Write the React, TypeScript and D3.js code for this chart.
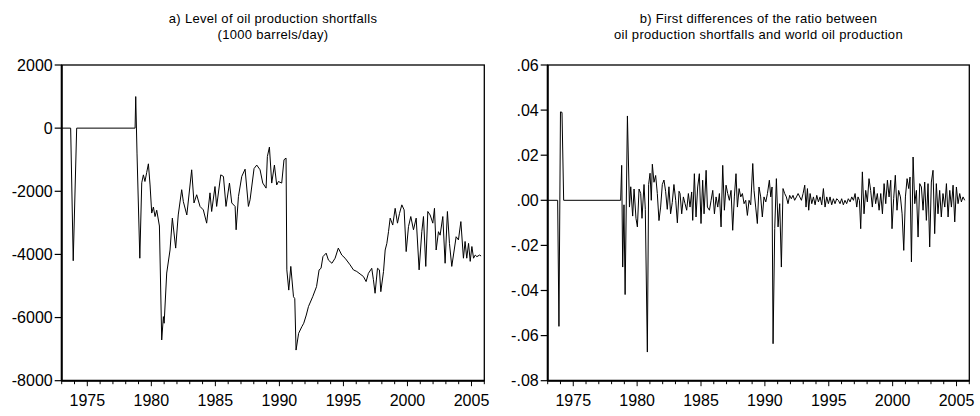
import React from "react";
import * as d3 from "d3";

type Pt = [number, number];

// x axis: one tick per year, labels every five years
const yearTicks = d3.range(1973, 2007);
const yearLabels = [1975, 1980, 1985, 1990, 1995, 2000, 2005];

// panel a) level of shortfalls, [year, 1000 barrels/day]
const levelTicks = [2000, 0, -2000, -4000, -6000, -8000];
const levelTickLabels = ["2000", "0", "-2000", "-4000", "-6000", "-8000"];
const levelTitle = ["a) Level of oil production shortfalls", "(1000 barrels/day)"];
const shortfallLevel: Pt[] = [
  [1973.0, 0], [1973.7, 0], [1973.9, -4200], [1974.17, 0], [1978.73, 0], [1978.78, 1000],
  [1978.88, -790], [1979.1, -4120], [1979.25, -1730], [1979.38, -1480], [1979.5, -1690],
  [1979.64, -1400], [1979.77, -1130], [1979.9, -1800], [1980.03, -2690], [1980.16, -2500],
  [1980.29, -2800], [1980.42, -2600], [1980.63, -3100], [1980.81, -6710], [1980.94, -5970],
  [1981.0, -6180], [1981.2, -4590], [1981.46, -3860], [1981.64, -2850], [1981.9, -3800],
  [1982.1, -2750], [1982.37, -1950], [1982.5, -2330], [1982.77, -2750], [1983.15, -1320],
  [1983.33, -2370], [1983.54, -2110], [1983.8, -2480], [1984.06, -2590], [1984.32, -3010],
  [1984.58, -2050], [1984.71, -2640], [1984.97, -1850], [1985.1, -2480], [1985.42, -1480],
  [1985.63, -1530], [1985.83, -2480], [1986.1, -1740], [1986.28, -2370], [1986.54, -2480],
  [1986.62, -3220], [1986.8, -2170], [1987.06, -1530], [1987.32, -1300], [1987.58, -2480],
  [1987.71, -2270], [1988.02, -1280], [1988.23, -1170], [1988.49, -1320], [1988.7, -1740],
  [1988.96, -1900], [1989.06, -900], [1989.22, -600], [1989.4, -1740], [1989.61, -1170],
  [1989.79, -1800], [1989.92, -1690], [1990.18, -1740], [1990.36, -1000], [1990.52, -950],
  [1990.58, -4490], [1990.73, -5130], [1990.89, -4380], [1991.1, -5340], [1991.2, -5400],
  [1991.3, -7030], [1991.5, -6500], [1991.75, -6290], [1991.9, -6180], [1992.1, -5920],
  [1992.27, -5650], [1992.6, -5340], [1992.9, -5020], [1993.1, -4490], [1993.25, -4440],
  [1993.4, -4070], [1993.65, -3960], [1993.83, -4180], [1994.1, -4280], [1994.35, -4120],
  [1994.6, -3800], [1994.87, -4020], [1995.13, -4120], [1995.52, -4330], [1995.78, -4490],
  [1996.04, -4540], [1996.3, -4620], [1996.56, -4700], [1996.77, -4860], [1996.95, -4600],
  [1997.21, -4440], [1997.34, -4800], [1997.47, -5230], [1997.66, -4440], [1997.81, -4490],
  [1997.92, -5180], [1998.13, -4540], [1998.26, -3860], [1998.39, -3650], [1998.52, -3280],
  [1998.65, -2850], [1998.85, -3070], [1999.04, -2540], [1999.22, -3010], [1999.38, -2700],
  [1999.56, -2430], [1999.74, -2590], [1999.9, -3910], [2000.08, -3120], [2000.26, -2800],
  [2000.47, -3220], [2000.68, -2850], [2000.91, -4490], [2001.12, -3280], [2001.25, -2800],
  [2001.43, -4380], [2001.59, -2640], [2001.77, -2750], [2001.98, -3010], [2002.11, -2540],
  [2002.24, -3860], [2002.42, -3280], [2002.55, -3390], [2002.76, -2800], [2002.94, -4280],
  [2003.12, -2640], [2003.28, -3650], [2003.46, -4380], [2003.65, -3860], [2003.8, -3440],
  [2003.98, -3540], [2004.17, -2960], [2004.37, -4120], [2004.5, -3590], [2004.63, -4120],
  [2004.77, -3650], [2004.9, -4220], [2005.03, -3750], [2005.16, -4120], [2005.29, -4020],
  [2005.42, -4070], [2005.63, -4020], [2005.75, -4050],
];

// panel b) first differences of shortfall / world production
const diffTicks = [0.06, 0.04, 0.02, 0, -0.02, -0.04, -0.06, -0.08];
const diffTickLabels = [".06", ".04", ".02", ".00", "-.02", "-.04", "-.06", "-.08"];
const diffTitle = [
  "b) First differences of the ratio between",
  "oil production shortfalls and world oil production",
];
const shortfallDiff: Pt[] = [
  [1973.0, 0], [1973.78, 0], [1973.88, -0.0559], [1974.0, 0.0392], [1974.12, 0.039], [1974.25, 0],
  [1978.71, 0], [1978.79, 0.0155], [1978.87, -0.0296], [1978.97, -0.002], [1979.06, -0.0418],
  [1979.24, 0.0374], [1979.4, -0.003], [1979.5, 0.006], [1979.65, -0.007], [1979.76, 0.005],
  [1979.91, -0.008], [1980.02, -0.0118], [1980.15, 0.005], [1980.28, 0.003], [1980.38, -0.008],
  [1980.54, 0.007], [1980.64, -0.004], [1980.8, -0.0673], [1980.9, 0.007], [1981.01, 0.012],
  [1981.11, 0], [1981.19, 0.016], [1981.32, 0.008], [1981.45, 0.011], [1981.58, 0.003],
  [1981.71, -0.009], [1981.84, -0.003], [1981.97, 0.007], [1982.1, 0.009], [1982.23, 0.004],
  [1982.36, -0.004], [1982.49, 0.006], [1982.62, -0.006], [1982.75, -0.001], [1982.88, 0.007],
  [1983.02, 0], [1983.15, -0.01], [1983.28, 0.004],
  [1983.36, 0.003], [1983.49, -0.006], [1983.62, 0.0015], [1983.75, -0.0015], [1983.88, -0.0044],
  [1984.01, 0.003], [1984.14, -0.003], [1984.27, 0.0037], [1984.35, -0.0089], [1984.48, 0.0118],
  [1984.61, -0.0074], [1984.74, 0.0059], [1984.87, 0.0118], [1985.0, -0.0103], [1985.13, 0.0089],
  [1985.24, -0.006], [1985.4, 0.0133], [1985.5, -0.003], [1985.66, -0.0044], [1985.79, 0],
  [1985.92, 0.0044], [1986.05, -0.006], [1986.18, 0.0015], [1986.31, -0.003], [1986.44, 0.003],
  [1986.57, -0.0118], [1986.7, 0.0155], [1986.83, -0.0044], [1986.96, 0.0067], [1987.09, 0.003],
  [1987.22, 0], [1987.35, 0.0044], [1987.48, -0.0133], [1987.61, 0.0015], [1987.74, 0.0118],
  [1987.85, -0.003], [1987.98, 0.0052], [1988.11, 0.0015], [1988.24, 0.003], [1988.37, -0.0015],
  [1988.5, 0], [1988.63, -0.0067], [1988.76, 0], [1988.89, -0.002], [1989.05, 0.0163],
  [1989.15, 0.0044], [1989.28, -0.003], [1989.41, -0.0103], [1989.54, 0.0059], [1989.67, 0.0015],
  [1989.8, -0.0074], [1989.93, 0.0015], [1990.07, -0.0007], [1990.2, 0.003], [1990.35, 0.0089],
  [1990.46, 0.0015], [1990.56, 0.0059], [1990.64, -0.0636], [1990.77, -0.0126], [1990.9, 0.0096],
  [1991.03, -0.0118], [1991.16, -0.0015], [1991.29, -0.0296], [1991.42, 0.0052], [1991.55, 0.003],
  [1991.68, 0.0015], [1991.81, -0.0015], [1991.94, 0.0022], [1992.07, 0.0007], [1992.2, 0.0022],
  [1992.33, 0], [1992.47, 0.0015], [1992.6, 0.003], [1992.73, 0.0015], [1992.86, 0],
  [1992.99, 0.003], [1993.12, 0.0067], [1993.22, -0.003], [1993.33, 0.0052], [1993.43, -0.0044],
  [1993.54, 0.003], [1993.67, -0.0015], [1993.8, 0.0015], [1993.93, -0.002], [1994.06, 0.0022],
  [1994.19, -0.0007], [1994.32, 0.0015], [1994.45, -0.002], [1994.58, 0.0052], [1994.71, -0.003],
  [1994.84, 0.0015], [1994.97, -0.0015], [1995.1, 0.0015], [1995.23, -0.002], [1995.36, 0.0007],
  [1995.49, -0.0015], [1995.62, 0.0007], [1995.75, 0], [1995.88, -0.0015], [1996.01, 0.0007],
  [1996.14, -0.002], [1996.27, 0], [1996.4, -0.0015], [1996.53, 0.0007], [1996.67, -0.0007],
  [1996.8, 0.0015], [1996.93, 0], [1997.06, 0.003], [1997.19, -0.003], [1997.29, 0.0015],
  [1997.4, 0], [1997.5, -0.0126], [1997.63, 0.0126], [1997.76, -0.006], [1997.89, 0.0044],
  [1998.02, -0.0007], [1998.15, 0.0096], [1998.28, 0.0044], [1998.41, -0.003], [1998.54, 0.0059],
  [1998.67, -0.0015], [1998.8, 0.003], [1998.94, -0.0044], [1999.07, 0.003], [1999.2, -0.006],
  [1999.33, 0.0074], [1999.46, -0.0015], [1999.59, 0.0089], [1999.72, 0.0015], [1999.85, 0.0089],
  [1999.95, -0.0126], [2000.08, 0.0007], [2000.21, 0.0111], [2000.34, -0.0044], [2000.47, 0.0044],
  [2000.61, 0.0015], [2000.74, -0.006], [2000.87, -0.0222], [2001.0, 0.0015], [2001.13, 0.0096],
  [2001.26, 0.0052], [2001.36, 0.0103], [2001.47, -0.0273], [2001.6, 0.0192], [2001.73, -0.0015],
  [2001.86, 0.0044], [2001.99, -0.0163], [2002.12, 0.0074], [2002.25, 0.0059], [2002.38, -0.0044],
  [2002.51, 0.0081], [2002.64, -0.0089], [2002.77, 0.0074], [2002.9, -0.0207], [2003.03, 0.0081],
  [2003.16, 0.0133], [2003.29, -0.0148], [2003.42, 0.0074], [2003.55, -0.006], [2003.68, 0.0044],
  [2003.81, -0.0074], [2003.94, 0.003], [2004.08, -0.003], [2004.21, 0.0074], [2004.34, -0.0074],
  [2004.47, 0.0044], [2004.6, -0.003], [2004.73, 0.0067], [2004.86, -0.0096], [2004.99, 0.0059],
  [2005.12, -0.0015], [2005.25, 0.003], [2005.38, -0.0007], [2005.51, 0.0015], [2005.64, 0],
];

const FONT = "'Liberation Sans', Arial, Helvetica, sans-serif";
const TOP = 65;
const BOTTOM = 380.7;

interface PanelProps {
  left: number;
  right: number;
  data: Pt[];
  domain: [number, number];
  ticks: number[];
  tickLabels: string[];
  title: string[];
}

const Panel: React.FC<PanelProps> = ({ left, right, data, domain, ticks, tickLabels, title }) => {
  const x = d3.scaleLinear().domain([1973, 2006]).range([left, right]);
  const y = d3.scaleLinear().domain(domain).range([BOTTOM, TOP]);
  const line = d3
    .line<Pt>()
    .x((d) => x(d[0]))
    .y((d) => y(d[1]));
  const cx = (left + right) / 2;

  return (
    <g fontFamily={FONT} fill="#000">
      {/* title */}
      {title.map((t, i) => (
        <text key={t} x={cx} y={23 + i * 16} fontSize={13} letterSpacing={0.3} textAnchor="middle">
          {t}
        </text>
      ))}

      {/* data line */}
      <path d={line(data) || ""} fill="none" stroke="#000" strokeWidth={1} strokeLinejoin="round" />

      {/* frame */}
      <rect x={left} y={TOP} width={right - left} height={BOTTOM - TOP} fill="none" stroke="#000" strokeWidth={1.3} />
      <line x1={left} x2={left} y1={TOP} y2={BOTTOM} stroke="#000" strokeWidth={2} />
      <line x1={left} x2={right} y1={BOTTOM} y2={BOTTOM} stroke="#000" strokeWidth={2} />

      {/* y axis */}
      {ticks.map((v, i) => (
        <g key={v}>
          <line x1={left - 7} x2={left} y1={y(v)} y2={y(v)} stroke="#000" strokeWidth={1.2} />
          <text x={left - 9} y={y(v)} dy="0.36em" fontSize={16} textAnchor="end">
            {tickLabels[i]}
          </text>
        </g>
      ))}

      {/* x axis */}
      {yearTicks.map((yr) => {
        const major = yearLabels.includes(yr);
        return (
          <line
            key={yr}
            x1={x(yr)}
            x2={x(yr)}
            y1={BOTTOM}
            y2={BOTTOM + (major ? 5.5 : 3.5)}
            stroke="#000"
            strokeWidth={1}
          />
        );
      })}
      {yearLabels.map((yr) => (
        <text key={yr} x={x(yr)} y={406} fontSize={16} textAnchor="middle">
          {yr}
        </text>
      ))}
    </g>
  );
};

export default function App() {
  return (
    <svg
      width={980}
      height={416}
      style={{ position: "absolute", left: 0, top: 0, background: "#fff" }}
    >
      <rect width={980} height={416} fill="#fff" />
      <Panel
        left={61.7}
        right={484.3}
        data={shortfallLevel}
        domain={[-8000, 2000]}
        ticks={levelTicks}
        tickLabels={levelTickLabels}
        title={levelTitle}
      />
      <Panel
        left={547.7}
        right={969.3}
        data={shortfallDiff}
        domain={[-0.08, 0.06]}
        ticks={diffTicks}
        tickLabels={diffTickLabels}
        title={diffTitle}
      />
    </svg>
  );
}
